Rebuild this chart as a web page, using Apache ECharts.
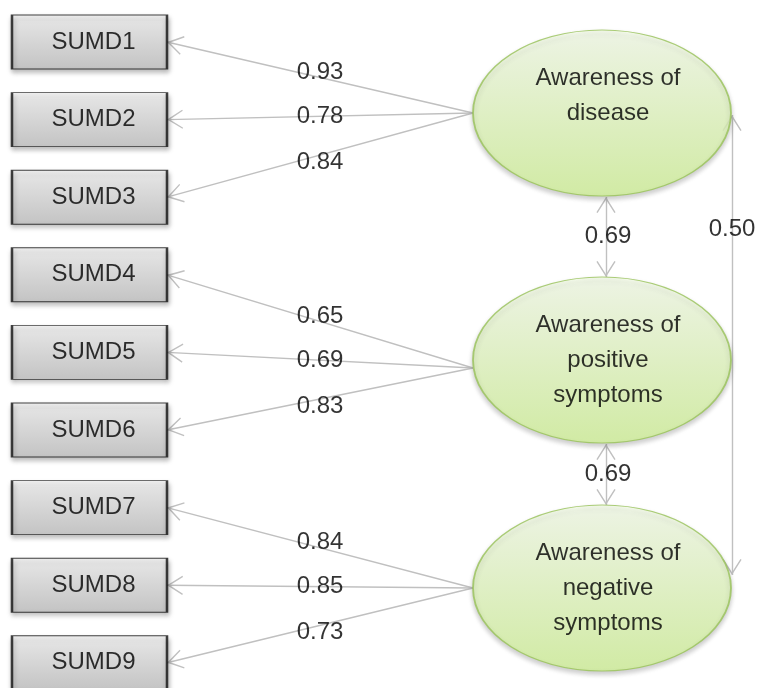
<!DOCTYPE html>
<html>
<head>
<meta charset="utf-8">
<title>Awareness model</title>
<script src="https://cdn.jsdelivr.net/npm/echarts@6/dist/echarts.min.js"></script>
<style>
  html, body { margin: 0; padding: 0; background: #fff; }
  #chart { width: 764px; height: 688px; }
</style>
</head>
<body>
<div id="chart"></div>
<script>
// observed variables (boxes, left column)
const indicators = ['SUMD1', 'SUMD2', 'SUMD3', 'SUMD4', 'SUMD5', 'SUMD6', 'SUMD7', 'SUMD8', 'SUMD9'];
// latent factors (ellipses, right column)
const factors = ['Awareness of\ndisease', 'Awareness of\npositive\nsymptoms', 'Awareness of\nnegative\nsymptoms'];
// factor each indicator loads on, and the loading
const factorOf = [0, 0, 0, 1, 1, 1, 2, 2, 2];
const loadings = [0.93, 0.78, 0.84, 0.65, 0.69, 0.83, 0.84, 0.85, 0.73];
// factor correlations
const corrFrom = [0, 1, 0];
const corrTo = [1, 2, 2];
const corrValues = [0.69, 0.69, 0.50];

// layout (pixels, the axes run 0..764 / 0..688)
const BOX_X = 89.5, BOX_W = 155, BOX_H = 54, BOX_Y0 = 42, BOX_STEP = 77.6;
const ELL_X = 602, ELL_W = 258, ELL_H = 166;
const ELL_Y = [113, 360, 588];
const ANCHOR_DY = [0, 8, 0];   // where the loading arrows leave each ellipse
const LINE_H = 35;
const FONT = '"Liberation Sans", Arial, Helvetica, sans-serif';
const EDGE = '#c0c0c0';

// open arrow head, tip in the middle of its box so it sits on the line end
const CHEVRON = 'path://M16,16L25.6,31.3L24.4,32L16,18.85L7.6,32L6.4,31.3Z' +
  'M16,0L16.01,0Z M0,16L0,16.01Z M32,16L32,16.01Z';
const ELLIPSE = 'path://M0,50C0,22.4 22.4,0 50,0C77.6,0 100,22.4 100,50' +
  'C100,77.6 77.6,100 50,100C22.4,100 0,77.6 0,50Z';

const boxY = i => BOX_Y0 + i * BOX_STEP;

// loading arrows: factor -> indicator
const loadingLines = indicators.map((n, i) => {
  const f = factorOf[i];
  return { coords: [[ELL_X - ELL_W / 2, ELL_Y[f] + ANCHOR_DY[f]], [BOX_X + BOX_W / 2, boxY(i)]] };
});
const labelShift = [-5, 0, 7];
const loadingLabels = loadings.map((v, i) => {
  const c = loadingLines[i].coords;
  return [(c[0][0] + c[1][0]) / 2, (c[0][1] + c[1][1]) / 2 + labelShift[i % 3], v];
});

// correlation arrows
const corrLines = [];
const corrLabels = [];
corrValues.forEach((v, k) => {
  const a = corrFrom[k], b = corrTo[k];
  if (b - a === 1) {
    const y1 = ELL_Y[a] + ELL_H / 2, y2 = ELL_Y[b] - ELL_H / 2;
    corrLines.push({ coords: [[ELL_X + 4, y1 + 1], [ELL_X + 4, y2]] });
    corrLabels.push([ELL_X + 6, (y1 + y2) / 2, v]);
  } else {
    const x = ELL_X + ELL_W / 2 + 1;
    corrLines.push({ coords: [[x, ELL_Y[a] + 2], [x, ELL_Y[b] - 13]] });
    corrLabels.push([x, ELL_Y[a] + ELL_H / 2 + 33, v]);
  }
});

const textStyle = { color: '#000', fontSize: 24, fontFamily: FONT, textBorderWidth: 0 };

const chart = echarts.init(document.getElementById('chart'));
chart.setOption({
  animation: false,
  grid: { left: 0, right: 0, top: 0, bottom: 0 },
  xAxis: { type: 'value', min: 0, max: 764, show: false },
  yAxis: { type: 'value', min: 0, max: 688, inverse: true, show: false },
  series: [
    {
      type: 'lines',
      coordinateSystem: 'cartesian2d',
      z: 1,
      silent: true,
      symbol: ['none', CHEVRON],
      symbolSize: 32,
      lineStyle: { color: EDGE, width: 1.4, opacity: 1 },
      data: loadingLines
    },
    {
      type: 'lines',
      coordinateSystem: 'cartesian2d',
      z: 1,
      silent: true,
      symbol: [CHEVRON, CHEVRON],
      symbolSize: 32,
      lineStyle: { color: EDGE, width: 1.4, opacity: 1 },
      data: corrLines
    },
    {
      type: 'scatter',
      z: 3,
      clip: false,
      silent: true,
      symbol: 'rect',
      symbolSize: [BOX_W, BOX_H],
      itemStyle: {
        color: new echarts.graphic.LinearGradient(0, 0, 0, 1, [
          { offset: 0, color: '#f3f3f3' },
          { offset: 1, color: '#c6c6c6' }
        ]),
        borderColor: '#111',
        borderWidth: 1.5,
        shadowBlur: 5,
        shadowOffsetX: 1,
        shadowOffsetY: 3,
        shadowColor: 'rgba(0,0,0,0.35)'
      },
      label: Object.assign({ show: true, position: 'inside', formatter: '{b}', offset: [4, 0] }, textStyle),
      data: indicators.map((n, i) => ({ name: n, value: [BOX_X, boxY(i)] }))
    },
    {
      type: 'scatter',
      z: 3,
      clip: false,
      silent: true,
      symbol: ELLIPSE,
      symbolSize: [ELL_W, ELL_H],
      itemStyle: {
        color: new echarts.graphic.LinearGradient(0, 0, 0, 1, [
          { offset: 0, color: '#f5fdea' },
          { offset: 1, color: '#d2f29a' }
        ]),
        borderColor: '#98c25a',
        borderWidth: 1.5,
        shadowBlur: 5,
        shadowOffsetY: 3,
        shadowColor: 'rgba(0,0,0,0.25)'
      },
      label: Object.assign({ show: true, position: 'inside', formatter: '{b}', lineHeight: LINE_H }, textStyle),
      data: factors.map((n, i) => ({
        name: n,
        value: [ELL_X, ELL_Y[i]],
        label: { offset: [6, -(3 - n.split('\n').length) * LINE_H / 2] }
      }))
    },
    {
      type: 'scatter',
      z: 4,
      silent: true,
      symbolSize: 1,
      itemStyle: { color: 'rgba(0,0,0,0)' },
      label: Object.assign({ show: true, position: 'inside', formatter: p => p.value[2].toFixed(2) }, textStyle),
      data: loadingLabels.concat(corrLabels)
    }
  ]
});
</script>
</body>
</html>
